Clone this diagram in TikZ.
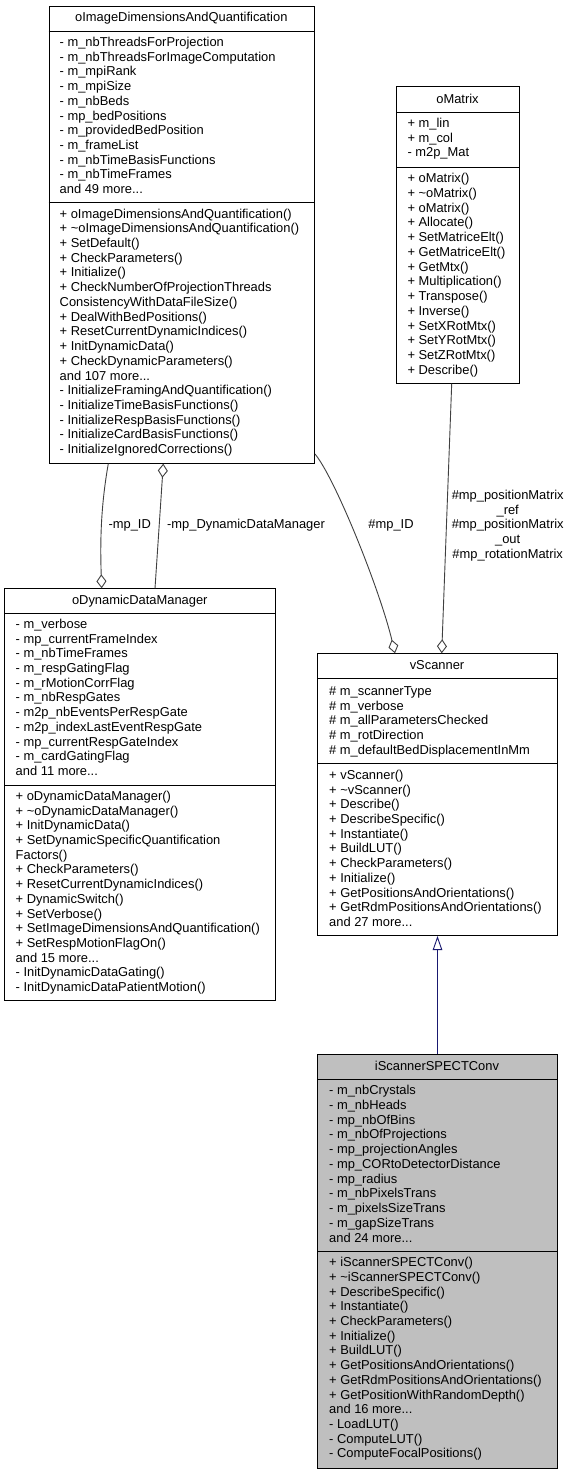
\documentclass[tikz,border=0pt]{standalone}
\usepackage{fontspec}
\setmainfont{Liberation Sans}
\usetikzlibrary{arrows.meta}
\newcommand\fs{\fontsize{12.9}{14.7}\selectfont}
\newcommand\mydots{...}
\newcommand\tld{\textasciitilde}
\newcommand\members[4]{\foreach \itm [count=\k] in {#4} {\node[txt] (#1-\k) at (#2,{#3+3.8+14.72*(\k-1)}) {\itm};}}
\definecolor{edgegrey}{HTML}{404040}
\definecolor{inhblue}{HTML}{191970}
\definecolor{classgrey}{HTML}{BFBFBF}
\tikzset{
  txt/.style={anchor=base west, inner sep=0pt, font=\fs},
  ttl/.style={anchor=base, inner sep=0pt, font=\fs},
  lbl/.style={anchor=base, inner sep=0pt, font=\fs},
  classbox/.style={draw=black, line width=1pt, fill=white, anchor=north west, inner sep=0pt},
  sepline/.style={draw=black, line width=1pt},
  agg/.style={draw=edgegrey, line width=0.9pt, -{Diamond[length=14pt, width=10pt, fill=white, line width=0.9pt]}},
  inh/.style={draw=inhblue, line width=0.9pt, -{Triangle[length=14pt, width=9.5pt, fill=white, line width=0.9pt]}}
}
\begin{document}
\begin{tikzpicture}[x=1pt,y=-1pt]
\fill[white] (0,0) rectangle (571,1475);
\useasboundingbox (0,0) rectangle (571,1475);

% ---- oImageDimensionsAndQuantification
\node[classbox, minimum width=265.3pt, minimum height=457pt] (b1) at (48.7,5.7) {};
\draw[sepline] ([yshift=-26pt]b1.north west) -- ([yshift=-26pt]b1.north east);
\draw[sepline] ([yshift=-197pt]b1.north west) -- ([yshift=-197pt]b1.north east);
\node[ttl] (b1t) at (181.35,21.8) {oImageDimensionsAndQuantification};
\members{b1a}{59.5}{42.7}{- m\_nbThreadsForProjection, - m\_nbThreadsForImageComputation, - m\_mpiRank, - m\_mpiSize, - m\_nbBeds, - mp\_bedPositions, - m\_providedBedPosition, - m\_frameList, - m\_nbTimeBasisFunctions, - m\_nbTimeFrames, and 49 more\mydots}
\members{b1m}{59.5}{214.3}{+ oImageDimensionsAndQuantification(), + \tld oImageDimensionsAndQuantification(), + SetDefault(), + CheckParameters(), + Initialize(), + CheckNumberOfProjectionThreads, ConsistencyWithDataFileSize(), + DealWithBedPositions(), + ResetCurrentDynamicIndices(), + InitDynamicData(), + CheckDynamicParameters(), and 107 more\mydots, - InitializeFramingAndQuantification(), - InitializeTimeBasisFunctions(), - InitializeRespBasisFunctions(), - InitializeCardBasisFunctions(), - InitializeIgnoredCorrections()}

% ---- oMatrix
\node[classbox, minimum width=123pt, minimum height=296.7pt] (b2) at (396,86) {};
\draw[sepline] ([yshift=-26.3pt]b2.north west) -- ([yshift=-26.3pt]b2.north east);
\draw[sepline] ([yshift=-81.3pt]b2.north west) -- ([yshift=-81.3pt]b2.north east);
\node[ttl] (b2t) at (457.5,103.3) {oMatrix};
\members{b2a}{407.3}{123.5}{+ m\_lin, + m\_col, - m2p\_Mat}
\members{b2m}{407.3}{179}{+ oMatrix(), + \tld oMatrix(), + oMatrix(), + Allocate(), + SetMatriceElt(), + GetMatriceElt(), + GetMtx(), + Multiplication(), + Transpose(), + Inverse(), + SetXRotMtx(), + SetYRotMtx(), + SetZRotMtx(), + Describe()}

% ---- oDynamicDataManager
\node[classbox, minimum width=271pt, minimum height=412pt] (b3) at (4.3,588.3) {};
\draw[sepline] ([yshift=-25pt]b3.north west) -- ([yshift=-25pt]b3.north east);
\draw[sepline] ([yshift=-196.7pt]b3.north west) -- ([yshift=-196.7pt]b3.north east);
\node[ttl] (b3t) at (139.8,604.6) {oDynamicDataManager};
\members{b3a}{15.5}{624.5}{- m\_verbose, - mp\_currentFrameIndex, - m\_nbTimeFrames, - m\_respGatingFlag, - m\_rMotionCorrFlag, - m\_nbRespGates, - m2p\_nbEventsPerRespGate, - m2p\_indexLastEventRespGate, - mp\_currentRespGateIndex, - m\_cardGatingFlag, and 11 more\mydots}
\members{b3m}{15.5}{796.5}{+ oDynamicDataManager(), + \tld oDynamicDataManager(), + InitDynamicData(), + SetDynamicSpecificQuantification, Factors(), + CheckParameters(), + ResetCurrentDynamicIndices(), + DynamicSwitch(), + SetVerbose(), + SetImageDimensionsAndQuantification(), + SetRespMotionFlagOn(), and 15 more\mydots, - InitDynamicDataGating(), - InitDynamicDataPatientMotion()}

% ---- vScanner
\node[classbox, minimum width=239.4pt, minimum height=281.7pt] (b4) at (317.3,653.3) {};
\draw[sepline] ([yshift=-24.7pt]b4.north west) -- ([yshift=-24.7pt]b4.north east);
\draw[sepline] ([yshift=-110pt]b4.north west) -- ([yshift=-110pt]b4.north east);
\node[ttl] (b4t) at (437,669.8) {vScanner};
\members{b4a}{329}{691.7}{\# m\_scannerType, \# m\_verbose, \# m\_allParametersChecked, \# m\_rotDirection, \# m\_defaultBedDisplacementInMm}
\members{b4m}{329}{775.5}{+ vScanner(), + \tld vScanner(), + Describe(), + DescribeSpecific(), + Instantiate(), + BuildLUT(), + CheckParameters(), + Initialize(), + GetPositionsAndOrientations(), + GetRdmPositionsAndOrientations(), and 27 more\mydots}

% ---- iScannerSPECTConv
\node[classbox, fill=classgrey, minimum width=239.4pt, minimum height=414.3pt] (b5) at (317.3,1054) {};
\draw[sepline] ([yshift=-25.5pt]b5.north west) -- ([yshift=-25.5pt]b5.north east);
\draw[sepline] ([yshift=-197pt]b5.north west) -- ([yshift=-197pt]b5.north east);
\node[ttl] (b5t) at (437,1070.5) {iScannerSPECTConv};
\members{b5a}{329}{1091}{- m\_nbCrystals, - m\_nbHeads, - mp\_nbOfBins, - m\_nbOfProjections, - mp\_projectionAngles, - mp\_CORtoDetectorDistance, - mp\_radius, - m\_nbPixelsTrans, - m\_pixelsSizeTrans, - m\_gapSizeTrans, and 24 more\mydots}
\members{b5m}{329}{1262.8}{+ iScannerSPECTConv(), + \tld iScannerSPECTConv(), + DescribeSpecific(), + Instantiate(), + CheckParameters(), + Initialize(), + BuildLUT(), + GetPositionsAndOrientations(), + GetRdmPositionsAndOrientations(), + GetPositionWithRandomDepth(), and 16 more\mydots, - LoadLUT(), - ComputeLUT(), - ComputeFocalPositions()}

% ---- connectors
\draw[agg] ([xshift=59.6pt]b1.south west) .. controls (101,505) and (100,540) .. ([xshift=97.4pt]b3.north west);
\draw[agg] ([xshift=150.7pt]b3.north west) -- ([xshift=114.6pt]b1.south west);
\draw[agg] ([yshift=9.7pt]b1.south east) .. controls (335,478) and (380,590) .. ([xshift=77.7pt]b4.north west);
\draw[agg] ([xshift=55.7pt]b2.south west) -- ([xshift=124.4pt]b4.north west);
\draw[inh] (b5.north) -- (b4.south);

% ---- labels
\node[lbl] (l1) at (129.7,528.8) {-mp\_ID};
\node[lbl] (l2) at (246,528.8) {-mp\_DynamicDataManager};
\node[lbl] (l3) at (391,528.8) {\#mp\_ID};
\node[lbl] (l4a) at (507.7,499.5) {\#mp\_positionMatrix};
\node[lbl] (l4b) at (507.7,514.2) {\_ref};
\node[lbl] (l4c) at (507.7,528.9) {\#mp\_positionMatrix};
\node[lbl] (l4d) at (507.7,543.6) {\_out};
\node[lbl] (l4e) at (507.7,558.3) {\#mp\_rotationMatrix};
\end{tikzpicture}
\end{document}
